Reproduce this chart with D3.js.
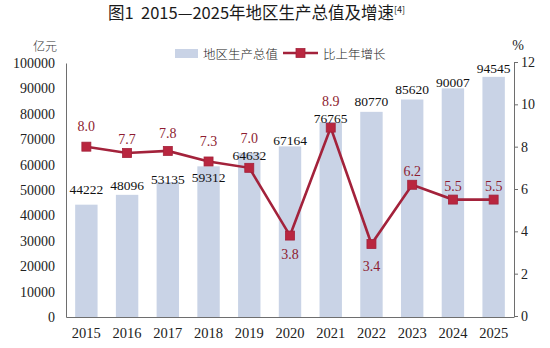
<!DOCTYPE html>
<html>
<head>
<meta charset="utf-8">
<script src="https://cdn.jsdelivr.net/npm/d3@7"></script>
<style>
  html, body { margin: 0; padding: 0; background: #fff; }
  svg { display: block; }
</style>
</head>
<body>
<svg id="chart" width="550" height="348"></svg>
<script>
// Years on the category axis
const years = ["2015", "2016", "2017", "2018", "2019", "2020", "2021", "2022", "2023", "2024", "2025"];
// Regional GDP, 100 million yuan
const gdp = [44222, 48096, 53135, 59312, 64632, 67164, 76765, 80770, 85620, 90007, 94545];
// Growth over previous year, %
const growth = [8.0, 7.7, 7.8, 7.3, 7.0, 3.8, 8.9, 3.4, 6.2, 5.5, 5.5];
// Axis tick values
const leftTicks = [0, 10000, 20000, 30000, 40000, 50000, 60000, 70000, 80000, 90000, 100000];
const rightTicks = [0, 2, 4, 6, 8, 10, 12];

// Label nudges (px) so value labels clear the line and each other
const gdpLabelShift = [-15, -9, -3, 11, 3, -6, -4, -10, -10, -6, -8];
const growthLabelShift = [-20, -14, -17, -20, -29, 19, -26, 22, -13, -13, -13];

const svg = d3.select("#chart");
const serif = "'Liberation Serif', 'Times New Roman', serif";
const cjk = "'Noto Sans CJK SC', sans-serif";

const plot = { left: 66, right: 514, top: 63, bottom: 317 };

const x = d3.scaleBand().domain(years).range([plot.left, plot.right]).paddingInner(0.45).paddingOuter(0.225);
const yL = d3.scaleLinear().domain([0, 100000]).range([plot.bottom, plot.top]);
const yR = d3.scaleLinear().domain([0, 12]).range([plot.bottom - 1, plot.top - 1]);

const barColor = "#c9d3e6";
const lineColor = "#a3223b";
const markFill = "#b9263f";
const labelRed = "#8e1c31";
const axisColor = "#6e6e6e";

// Title
const title = svg.append("text")
  .attr("x", 108).attr("y", 19)
  .style("white-space", "pre")
  .attr("font-family", cjk).attr("font-size", 16.5).attr("font-weight", 400)
  .attr("fill", "#1a1a1a");
title.append("tspan").text("图1  2015—2025年地区生产总值及增速");
title.append("tspan").attr("font-size", 9).attr("dy", -6).text("[4]");

// Unit labels
svg.append("text").attr("x", 45).attr("y", 45).attr("text-anchor", "middle")
  .attr("dominant-baseline", "central")
  .attr("font-family", cjk).attr("font-size", 12).attr("font-weight", 300).attr("fill", "#333").text("亿元");
svg.append("text").attr("x", 518).attr("y", 45).attr("text-anchor", "middle")
  .attr("dominant-baseline", "central")
  .attr("font-family", serif).attr("font-size", 14).attr("fill", "#222").text("%");

// Legend
const lg = svg.append("g").attr("transform", "translate(0,53)");
lg.append("rect").attr("x", 175).attr("y", -4).attr("width", 23).attr("height", 9).attr("fill", barColor);
lg.append("text").attr("x", 203).attr("y", 0).attr("dominant-baseline", "central")
  .attr("font-family", cjk).attr("font-size", 12.5).attr("font-weight", 300).attr("fill", "#222").text("地区生产总值");
lg.append("line").attr("x1", 283).attr("x2", 318).attr("y1", 0).attr("y2", 0)
  .attr("stroke", lineColor).attr("stroke-width", 2.5);
lg.append("rect").attr("x", 296).attr("y", -4.5).attr("width", 9).attr("height", 9)
  .attr("fill", markFill).attr("stroke", lineColor).attr("stroke-width", 0.8);
lg.append("text").attr("x", 323).attr("y", 0).attr("dominant-baseline", "central")
  .attr("font-family", cjk).attr("font-size", 12.5).attr("font-weight", 300).attr("fill", "#222").text("比上年增长");

// Bars
svg.append("g").selectAll("rect").data(gdp).join("rect")
  .attr("x", (d, i) => x(years[i]))
  .attr("y", d => yL(d))
  .attr("width", x.bandwidth())
  .attr("height", d => yL(0) - yL(d))
  .attr("fill", barColor);

// Left axis (line and labels, no tick marks)
const axL = svg.append("g").attr("transform", `translate(${plot.left},0)`)
  .call(d3.axisLeft(yL).tickValues(leftTicks).tickSize(0).tickPadding(11).tickFormat(d3.format("d")));
axL.select(".domain").attr("stroke", axisColor).attr("stroke-width", 1);
axL.selectAll("text").attr("font-family", serif).attr("font-size", 14).attr("fill", "#222");

// Right axis with outward ticks
const axR = svg.append("g").attr("transform", `translate(${plot.right},0)`)
  .call(d3.axisRight(yR).tickValues(rightTicks).tickSizeInner(4).tickSizeOuter(0).tickPadding(3));
axR.select(".domain").attr("stroke", axisColor).attr("stroke-width", 1);
axR.selectAll(".tick line").attr("stroke", axisColor);
axR.selectAll("text").attr("font-family", serif).attr("font-size", 14).attr("fill", "#222");

// Bottom axis
const axB = svg.append("g").attr("transform", `translate(0,${plot.bottom})`)
  .call(d3.axisBottom(x).tickSize(0).tickPadding(11));
axB.select(".domain").attr("stroke", axisColor).attr("stroke-width", 1);
axB.selectAll("text").attr("font-family", serif).attr("font-size", 14.5).attr("fill", "#222");

// Growth line with square markers
const cx = i => x(years[i]) + x.bandwidth() / 2;
const line = d3.line().x((d, i) => cx(i)).y(d => yR(d));
svg.append("path").datum(growth).attr("d", line)
  .attr("fill", "none").attr("stroke", lineColor).attr("stroke-width", 2.6)
  .attr("stroke-linejoin", "miter");
svg.append("g").selectAll("rect").data(growth).join("rect")
  .attr("x", (d, i) => cx(i) - 4.5)
  .attr("y", d => yR(d) - 4.5)
  .attr("width", 9).attr("height", 9)
  .attr("fill", markFill).attr("stroke", lineColor).attr("stroke-width", 0.8);

// GDP value labels
svg.append("g").selectAll("text").data(gdp).join("text")
  .attr("x", (d, i) => cx(i))
  .attr("y", (d, i) => yL(d) + gdpLabelShift[i])
  .attr("text-anchor", "middle").attr("dominant-baseline", "central")
  .attr("font-family", serif).attr("font-size", 13.5).attr("fill", "#111")
  .text(d => d);

// Growth value labels
svg.append("g").selectAll("text").data(growth).join("text")
  .attr("x", (d, i) => cx(i))
  .attr("y", (d, i) => yR(d) + growthLabelShift[i])
  .attr("text-anchor", "middle").attr("dominant-baseline", "central")
  .attr("font-family", serif).attr("font-size", 14).attr("fill", labelRed)
  .text(d => d.toFixed(1));
</script>
</body>
</html>
